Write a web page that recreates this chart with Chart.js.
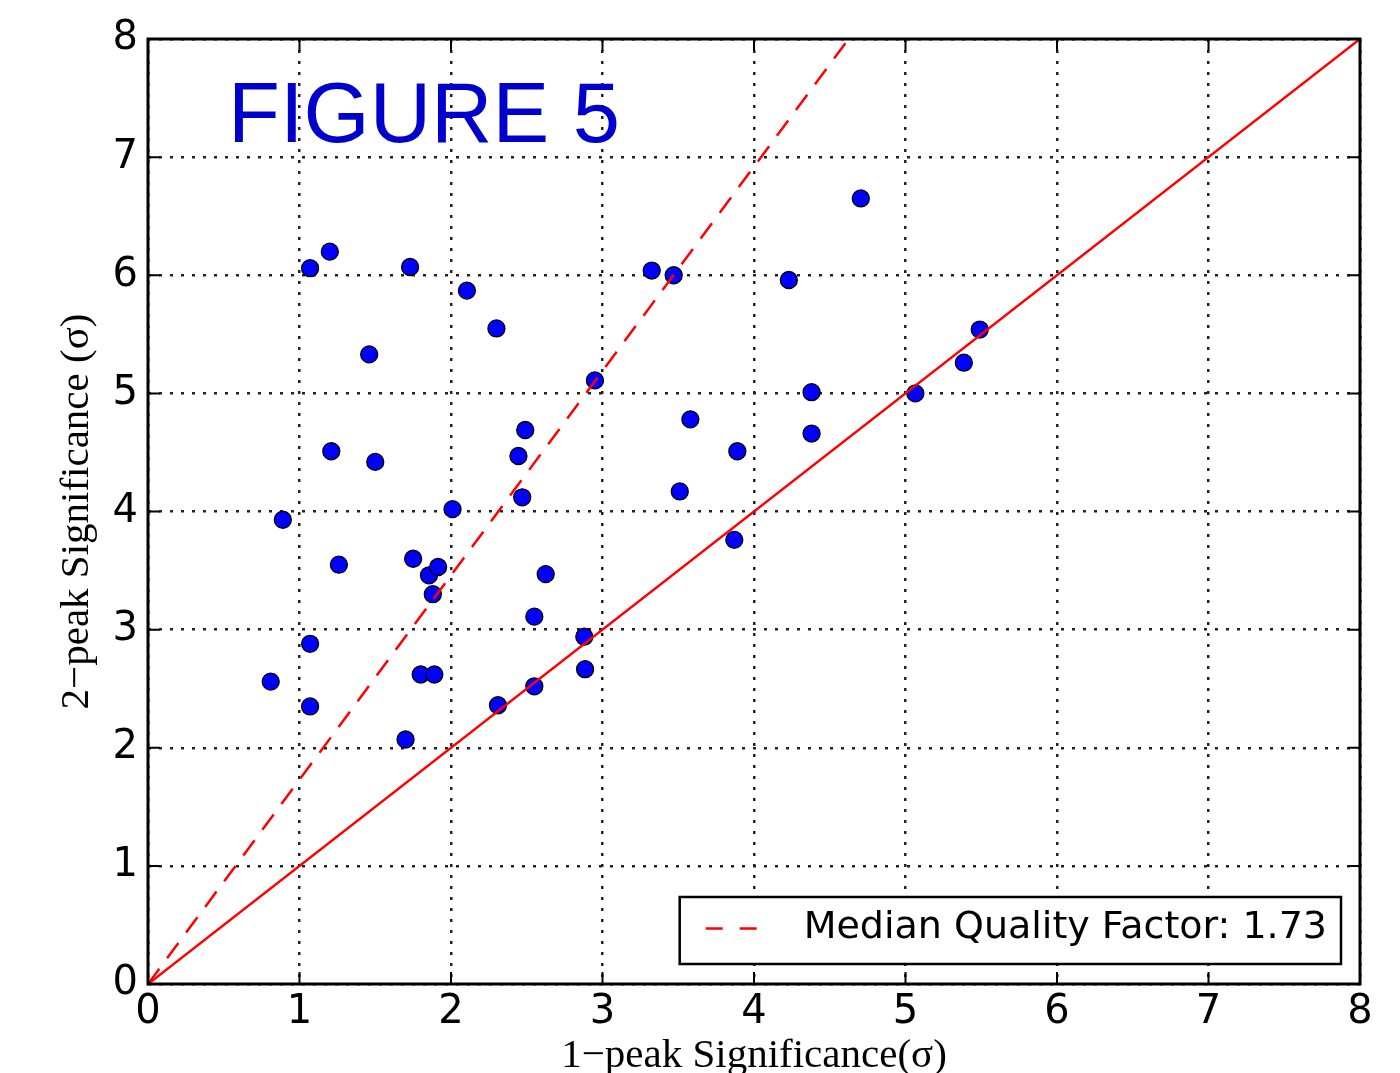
<!DOCTYPE html>
<html>
<head>
<meta charset="utf-8">
<script src="https://cdn.jsdelivr.net/npm/chart.js@4.4.1/dist/chart.umd.min.js"></script>
<style>
  html, body { margin: 0; padding: 0; background: #fff; }
  #wrap { width: 1400px; height: 1073px; position: relative; }
</style>
</head>
<body>
<div id="wrap"><canvas id="sig_chart"></canvas></div>
<script>
// 1-peak significance (x) and 2-peak significance (y) of each source, in sigma.
const onePeak = [
  0.81, 0.89, 1.07, 1.20, 1.21, 1.26, 1.07, 1.07, 1.46, 1.50,
  1.73, 1.75, 1.855, 1.915, 1.88, 1.80, 1.89, 1.70, 2.01, 2.105,
  2.30, 2.31, 2.445, 2.49, 2.47, 2.55, 2.625, 2.55, 2.88, 2.885,
  2.95, 3.325, 3.47, 3.51, 3.58, 3.89, 3.87, 4.23, 4.38, 4.38,
  4.705, 5.065, 5.385, 5.49
];
const twoPeak = [
  2.56, 3.93, 6.06, 6.20, 4.51, 3.55, 2.88, 2.35, 5.33, 4.42,
  6.07, 3.60, 3.46, 3.53, 3.30, 2.62, 2.62, 2.07, 4.02, 5.87,
  5.55, 2.36, 4.47, 4.69, 4.12, 3.11, 3.47, 2.52, 2.94, 2.665,
  5.11, 6.04, 6.00, 4.17, 4.78, 4.51, 3.76, 5.96, 5.01, 4.66,
  6.65, 5.00, 5.26, 5.54
];

// Axis range and tick labels (same on both axes).
const axisTicks = [0, 1, 2, 3, 4, 5, 6, 7, 8];
const MEDIAN_QF = 1.73;

// Reference lines: y = x and y = median quality factor * x.
const lineX = [0, 8];
const unityY = lineX.map(v => v);
const medianY = lineX.map(v => v * MEDIAN_QF);

const TICK_LEN = 12;

const points = onePeak.map((x, i) => ({ x: x, y: twoPeak[i] }));

// Frame on all four sides with inward tick marks (matplotlib classic look).
const frameTicksPlugin = {
  id: 'frameTicks',
  afterDatasetsDraw(chart) {
    const { ctx, chartArea: a, scales: { x, y } } = chart;
    ctx.save();
    ctx.strokeStyle = '#000';
    ctx.lineWidth = 2;
    ctx.beginPath();
    x.ticks.forEach(t => {
      const px = x.getPixelForValue(t.value);
      ctx.moveTo(px, a.bottom); ctx.lineTo(px, a.bottom - TICK_LEN);
      ctx.moveTo(px, a.top); ctx.lineTo(px, a.top + TICK_LEN);
    });
    y.ticks.forEach(t => {
      const py = y.getPixelForValue(t.value);
      ctx.moveTo(a.left, py); ctx.lineTo(a.left + TICK_LEN, py);
      ctx.moveTo(a.right, py); ctx.lineTo(a.right - TICK_LEN, py);
    });
    ctx.stroke();
    ctx.lineWidth = 3;
    ctx.strokeRect(a.left, a.top, a.right - a.left, a.bottom - a.top);
    ctx.restore();
  }
};

// Boxed legend in the lower right corner, only for the dashed line.
const boxLegendPlugin = {
  id: 'boxLegend',
  afterDatasetsDraw(chart) {
    const { ctx, chartArea: a } = chart;
    const ds = chart.data.datasets[0];
    ctx.save();
    ctx.font = '38px "DejaVu Sans"';
    const tw = ctx.measureText(ds.label).width;
    const w = 124 + tw + 14;
    const h = 67;
    const left = a.right - 19 - w;
    const top = a.bottom - 20 - h;
    ctx.fillStyle = '#fff';
    ctx.fillRect(left, top, w, h);
    ctx.strokeStyle = '#000';
    ctx.lineWidth = 2.5;
    ctx.strokeRect(left, top, w, h);
    const cy = top + h / 2 - 2;
    ctx.strokeStyle = ds.borderColor;
    ctx.lineWidth = ds.borderWidth;
    ctx.setLineDash([17, 17]);
    ctx.beginPath();
    ctx.moveTo(left + 26, cy);
    ctx.lineTo(left + 77, cy);
    ctx.stroke();
    ctx.setLineDash([]);
    ctx.fillStyle = '#000';
    ctx.textBaseline = 'middle';
    ctx.fillText(ds.label, left + 124, cy);
    ctx.restore();
  }
};

// Big blue "FIGURE 5" caption inside the axes.
const figureLabelPlugin = {
  id: 'figureLabel',
  afterDraw(chart) {
    const { ctx, chartArea: a } = chart;
    ctx.save();
    ctx.font = '85px "Liberation Sans"';
    ctx.fillStyle = '#0000CC';
    ctx.textBaseline = 'alphabetic';
    ctx.fillText('FIGURE 5', a.left + 80, a.top + 103);
    ctx.restore();
  }
};

const sig_chart = document.getElementById('sig_chart');

let chart = new Chart(sig_chart, {
  type: 'scatter',
  data: {
    datasets: [
      {
        label: 'Median Quality Factor: ' + MEDIAN_QF.toFixed(2),
        data: lineX.map((x, i) => ({ x: x, y: medianY[i] })),
        showLine: true,
        borderColor: '#ff0000',
        borderWidth: 2.5,
        borderDash: [19, 13],
        pointRadius: 0,
        fill: false
      },
      {
        label: 'unity',
        data: lineX.map((x, i) => ({ x: x, y: unityY[i] })),
        showLine: true,
        borderColor: '#ff0000',
        borderWidth: 2.5,
        pointRadius: 0,
        fill: false
      },
      {
        label: 'sources',
        data: points,
        pointRadius: 8.5,
        pointBackgroundColor: '#0000ff',
        pointBorderColor: '#000',
        pointBorderWidth: 1.3,
        showLine: false
      }
    ]
  },
  options: {
    responsive: true,
    maintainAspectRatio: false,
    devicePixelRatio: 1,
    animation: false,
    layout: { padding: { top: 39, right: 40, bottom: 0, left: 0 } },
    plugins: {
      legend: { display: false },
      tooltip: { enabled: false }
    },
    scales: {
      x: {
        type: 'linear',
        min: axisTicks[0],
        max: axisTicks[axisTicks.length - 1],
        afterFit(scale) { scale.height = 89; },
        afterBuildTicks(scale) { scale.ticks = axisTicks.map(v => ({ value: v })); },
        ticks: {
          stepSize: 1,
          padding: 5,
          color: '#000',
          font: { family: '"DejaVu Sans"', size: 40, lineHeight: 1.2 },
          maxRotation: 0
        },
        grid: { color: '#222', lineWidth: 2.5, drawTicks: false },
        border: { display: false, dash: [3, 8] },
        title: {
          display: true,
          text: '1\u2212peak Significance(\u03c3)',
          color: '#000',
          font: { family: '"Liberation Serif"', size: 41, lineHeight: 1.2 },
          padding: { top: 0, bottom: -8 }
        }
      },
      y: {
        type: 'linear',
        min: axisTicks[0],
        max: axisTicks[axisTicks.length - 1],
        afterFit(scale) { scale.width = 148; },
        afterBuildTicks(scale) { scale.ticks = axisTicks.map(v => ({ value: v })); },
        ticks: {
          stepSize: 1,
          padding: 10,
          color: '#000',
          font: { family: '"DejaVu Sans"', size: 40, lineHeight: 1.2 }
        },
        grid: { color: '#222', lineWidth: 2.5, drawTicks: false },
        border: { display: false, dash: [3, 8] },
        title: {
          display: true,
          text: '2\u2212peak Significance (\u03c3)',
          color: '#000',
          font: { family: '"Liberation Serif"', size: 41, lineHeight: 1.2 },
          padding: { top: 53, bottom: 0 }
        }
      }
    }
  },
  plugins: [frameTicksPlugin, boxLegendPlugin, figureLabelPlugin]
});
</script>
</body>
</html>
